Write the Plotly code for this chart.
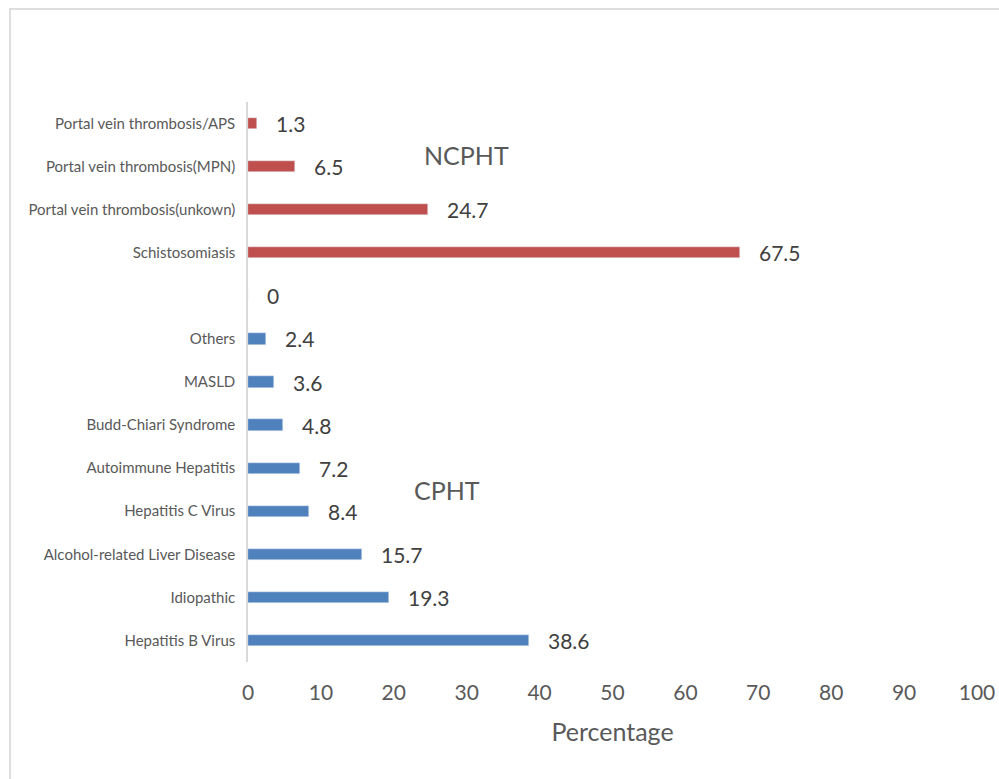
import plotly.graph_objects as go

# Data (bottom to top)
blue_cats = ["Hepatitis B Virus", "Idiopathic", "Alcohol-related Liver Disease",
             "Hepatitis C Virus", "Autoimmune Hepatitis", "Budd-Chiari Syndrome",
             "MASLD", "Others"]
blue_vals = [38.6, 19.3, 15.7, 8.4, 7.2, 4.8, 3.6, 2.4]
gap_cat = [" "]
gap_val = [0]
red_cats = ["Schistosomiasis", "Portal vein thrombosis(unkown)",
            "Portal vein thrombosis(MPN)", "Portal vein thrombosis/APS"]
red_vals = [67.5, 24.7, 6.5, 1.3]
x_ticks = [0, 10, 20, 30, 40, 50, 60, 70, 80, 90, 100]

all_cats = blue_cats + gap_cat + red_cats
all_vals = blue_vals + gap_val + red_vals

FONT = "Lato, 'Open Sans', sans-serif"
TXT = "#595959"

fig = go.Figure()
fig.add_trace(go.Bar(y=blue_cats, x=blue_vals, orientation="h",
                     marker_color="#4F81BD", width=0.26, showlegend=False))
fig.add_trace(go.Bar(y=gap_cat, x=gap_val, orientation="h",
                     marker_color="#4F81BD", width=0.26, showlegend=False))
fig.add_trace(go.Bar(y=red_cats, x=red_vals, orientation="h",
                     marker_color="#C0504D", width=0.26, showlegend=False))

annotations = []
for c, v in zip(all_cats, all_vals):
    annotations.append(dict(x=v, y=c, xref="x", yref="y", text=f"{v:g}",
                            showarrow=False, xanchor="left", xshift=17,
                            font=dict(family=FONT, size=21, color="#404040")))
annotations.append(dict(x=30.0, y=0.905, xref="x", yref="paper", text="NCPHT",
                        showarrow=False, xanchor="center", yanchor="middle",
                        font=dict(family=FONT, size=25, color=TXT)))
annotations.append(dict(x=27.3, y=0.307, xref="x", yref="paper", text="CPHT",
                        showarrow=False, xanchor="center", yanchor="middle",
                        font=dict(family=FONT, size=25, color=TXT)))

fig.update_layout(
    width=999, height=779,
    margin=dict(l=248, r=22, t=102, b=117),
    plot_bgcolor="white", paper_bgcolor="white",
    font=dict(family=FONT, color=TXT),
    annotations=annotations,
    bargap=0,
    shapes=[dict(type="rect", xref="paper", yref="paper",
                 x0=-0.3265, x1=1.2, y0=-0.5, y1=1.166,
                 line=dict(color="#d4d4d4", width=1.5), layer="below")],
    xaxis=dict(range=[0, 100], tickvals=x_ticks, showgrid=False, zeroline=False,
               showline=False, ticks="", ticklabelstandoff=16, automargin=False,
               ticklabeloverflow="allow",
               tickfont=dict(family=FONT, size=21, color=TXT),
               title=dict(text="Percentage", standoff=20,
                          font=dict(family=FONT, size=25, color=TXT))),
    yaxis=dict(categoryorder="array", categoryarray=all_cats, range=[-0.5, 12.5],
               showgrid=False, zeroline=False, showline=True, linecolor="#d9d9d9",
               linewidth=1.5, ticks="", ticklabelstandoff=8, automargin=False,
               tickfont=dict(family=FONT, size=15, color=TXT)),
)

fig.write_html("out.html")
